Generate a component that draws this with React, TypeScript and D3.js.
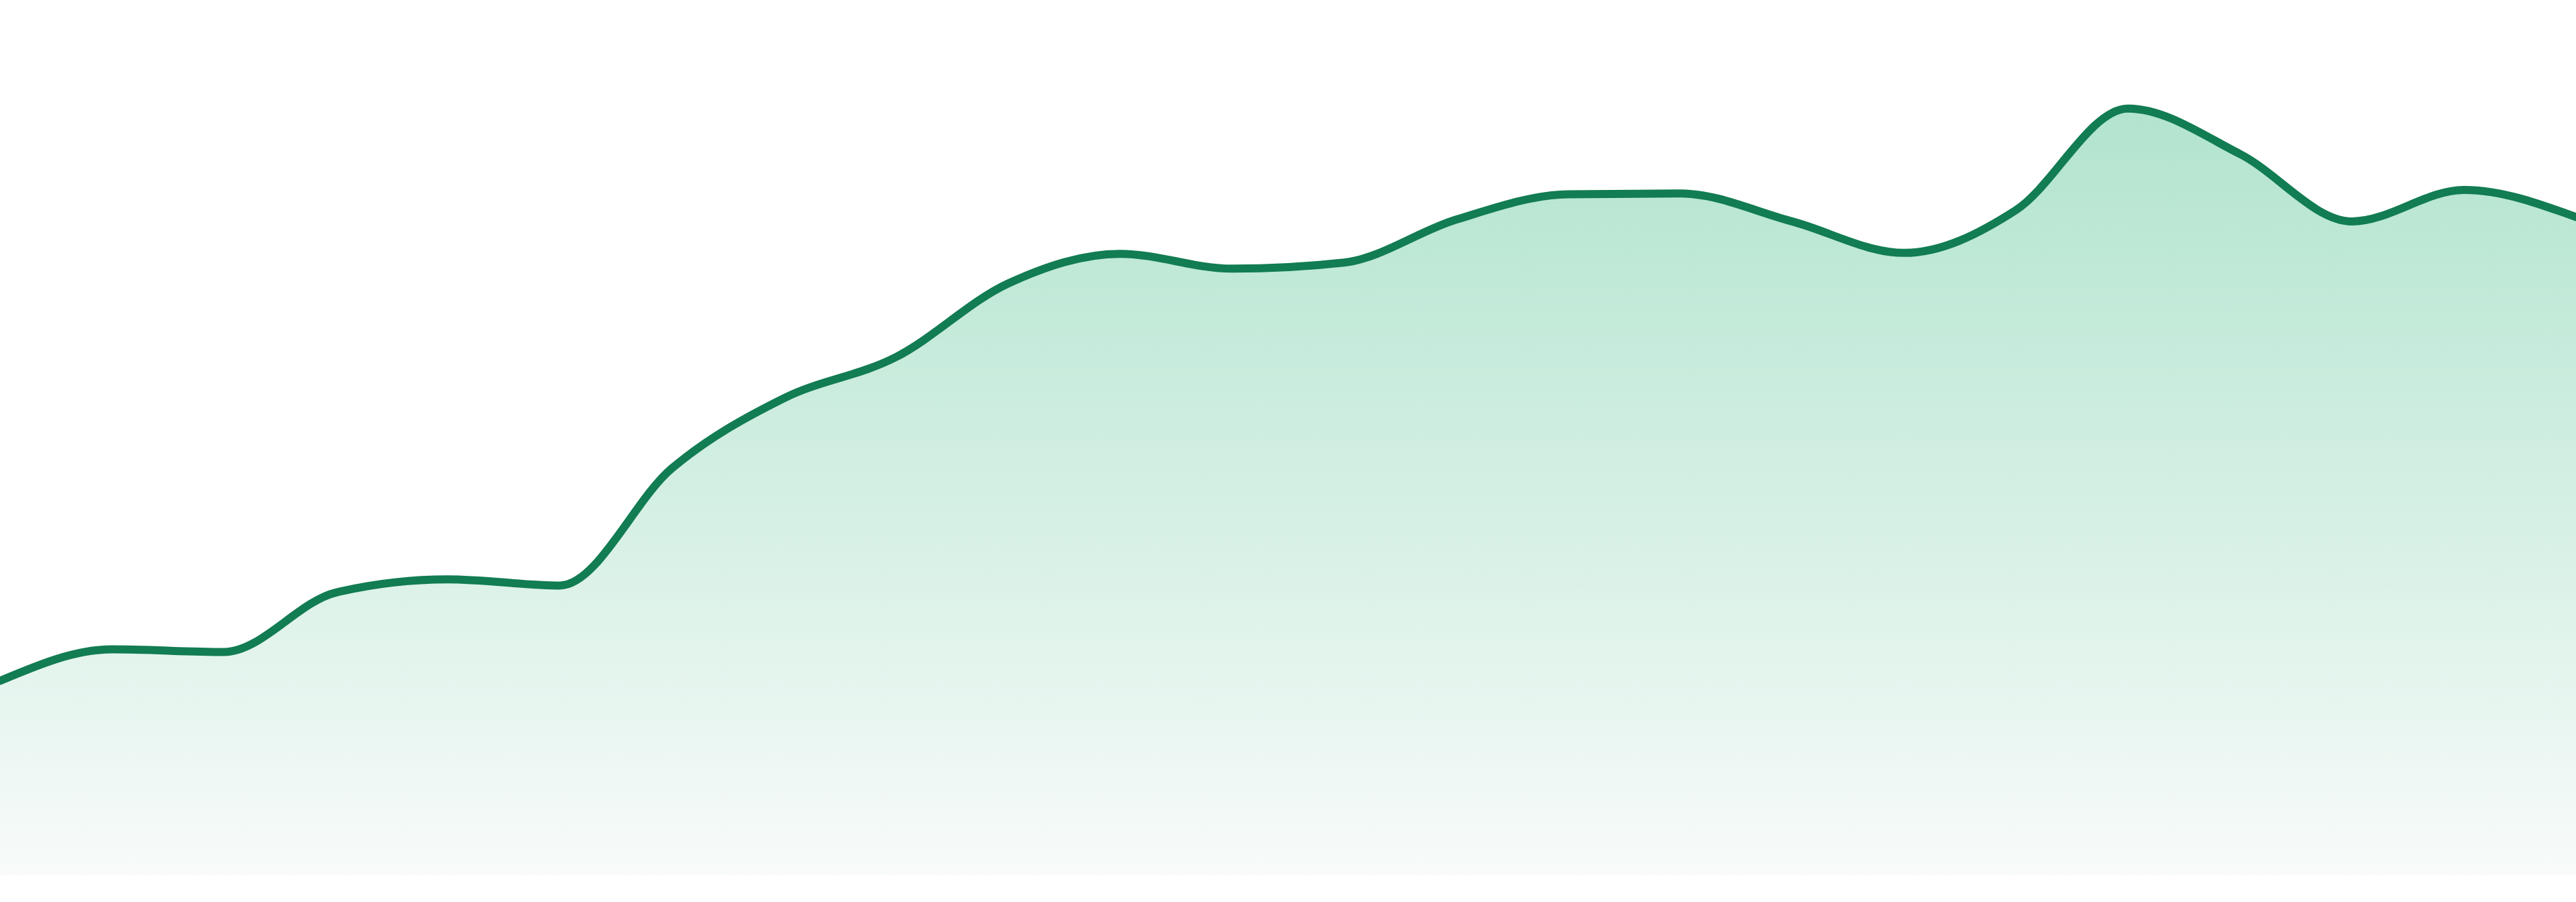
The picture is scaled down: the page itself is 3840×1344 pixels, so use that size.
import * as d3 from "d3";

// monthly index values (0..100 scale)
const periods = [
  "P01", "P02", "P03", "P04", "P05", "P06", "P07", "P08", "P09", "P10", "P11", "P12",
  "P13", "P14", "P15", "P16", "P17", "P18", "P19", "P20", "P21", "P22", "P23", "P24",
];
const values = [
  22.2, 25.8, 25.5, 32.3, 33.8, 33.1, 46.5, 54.5, 59.2, 67.6, 71.0, 69.3,
  70.0, 74.9, 77.8, 77.9, 74.7, 71.1, 76.0, 87.6, 82.4, 74.7, 78.3, 75.2,
];
const yDomain = [0, 100];

const WIDTH = 3840;
const HEIGHT = 1344;
const margin = { top: 0, right: 0, bottom: 40, left: 0 };

const LINE_COLOR = "#127c52";

export default function App() {
  const data = periods.map((p, i) => ({ p, v: values[i] }));

  const x = d3
    .scalePoint<string>()
    .domain(periods)
    .range([margin.left, WIDTH - margin.right]);
  const y = d3
    .scaleLinear()
    .domain(yDomain)
    .range([HEIGHT - margin.bottom, margin.top]);

  const line = d3
    .line<{ p: string; v: number }>()
    .x((d) => x(d.p) as number)
    .y((d) => y(d.v))
    .curve(d3.curveMonotoneX);

  const area = d3
    .area<{ p: string; v: number }>()
    .x((d) => x(d.p) as number)
    .y0(y(yDomain[0]))
    .y1((d) => y(d.v))
    .curve(d3.curveMonotoneX);

  const top = y(d3.max(values) as number);

  return (
    <svg
      width={WIDTH}
      height={HEIGHT}
      style={{ position: "absolute", left: 0, top: 0, display: "block", background: "#fff" }}
    >
      <defs>
        <linearGradient
          id="fillGrad"
          gradientUnits="userSpaceOnUse"
          x1={0}
          x2={0}
          y1={top}
          y2={y(yDomain[0])}
        >
          <stop offset="0%" stopColor="#b2e4cf" />
          <stop offset="50%" stopColor="#d3efe3" />
          <stop offset="100%" stopColor="#f8fbfa" />
        </linearGradient>
      </defs>
      <path d={area(data) ?? ""} fill="url(#fillGrad)" />
      <path
        d={line(data) ?? ""}
        fill="none"
        stroke={LINE_COLOR}
        strokeWidth={12}
        strokeLinejoin="round"
        strokeLinecap="round"
      />
    </svg>
  );
}
